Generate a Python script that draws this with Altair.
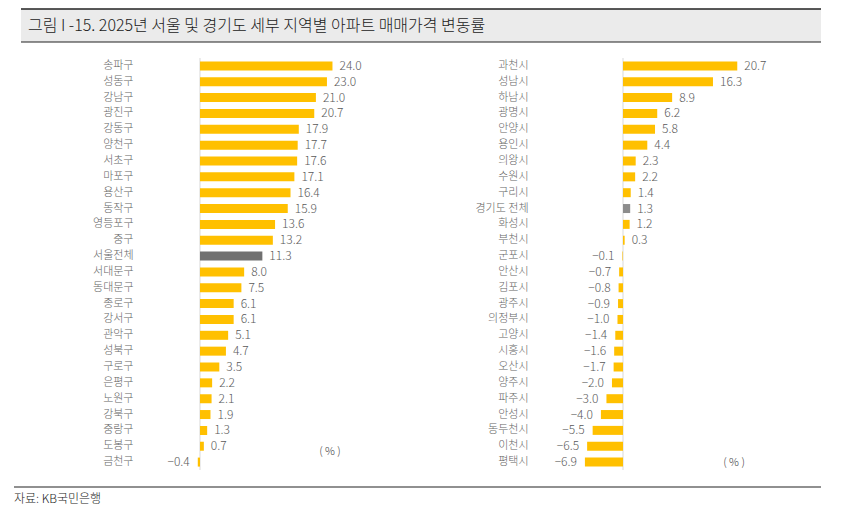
import pandas as pd
import altair as alt

FONT = 'Noto Sans CJK KR'
PX = 5.52  # pixels per percentage point, same in both panels

title_text = '그림 I -15. 2025년 서울 및 경기도 세부 지역별 아파트 매매가격 변동률'
source_text = '자료: KB국민은행'

seoul_names = ['송파구', '성동구', '강남구', '광진구', '강동구', '양천구', '서초구', '마포구',
               '용산구', '동작구', '영등포구', '중구', '서울전체', '서대문구', '동대문구', '종로구',
               '강서구', '관악구', '성북구', '구로구', '은평구', '노원구', '강북구', '중랑구',
               '도봉구', '금천구']
seoul_values = [24.0, 23.0, 21.0, 20.7, 17.9, 17.7, 17.6, 17.1, 16.4, 15.9, 13.6, 13.2, 11.3,
                8.0, 7.5, 6.1, 6.1, 5.1, 4.7, 3.5, 2.2, 2.1, 1.9, 1.3, 0.7, -0.4]

gg_names = ['과천시', '성남시', '하남시', '광명시', '안양시', '용인시', '의왕시', '수원시',
            '구리시', '경기도 전체', '화성시', '부천시', '군포시', '안산시', '김포시', '광주시',
            '의정부시', '고양시', '시흥시', '오산시', '양주시', '파주시', '안성시', '동두천시',
            '이천시', '평택시']
gg_values = [20.7, 16.3, 8.9, 6.2, 5.8, 4.4, 2.3, 2.2, 1.4, 1.3, 1.2, 0.3, -0.1, -0.7, -0.8,
             -0.9, -1.0, -1.4, -1.6, -1.7, -2.0, -3.0, -4.0, -5.5, -6.5, -6.9]


def panel(names, values, total, total_color, x_min, x_max, pct_x, pct_y):
    df = pd.DataFrame({'name': names, 'value': values})
    xs = alt.Scale(domain=[x_min, x_max], nice=False, zero=False)
    base = alt.Chart(df).encode(
        y=alt.Y('name:N', sort=names, title=None,
                scale=alt.Scale(paddingInner=0, paddingOuter=0),
                axis=alt.Axis(domain=False, ticks=False, labelPadding=5, labelFont=FONT,
                              labelFontSize=11, labelFontWeight=300, labelColor='#666666'))
    )
    zero = alt.Chart(pd.DataFrame({'z': [0]})).mark_rule(color='#d9d9d9', strokeWidth=1).encode(
        x=alt.X('z:Q', scale=xs, axis=None)
    )
    bars = base.mark_bar(size=9).encode(
        x=alt.X('value:Q', scale=xs, axis=None),
        color=alt.condition(alt.datum.name == total, alt.value(total_color), alt.value('#FFC000'))
    )
    pos = base.mark_text(align='left', baseline='middle', dx=7, font=FONT, fontSize=12,
                         fontWeight=300, color='#595959').encode(
        x=alt.X('value:Q', scale=xs, axis=None),
        text=alt.Text('value:Q', format='.1f')
    ).transform_filter('datum.value >= 0')
    neg = base.mark_text(align='right', baseline='middle', dx=-8, font=FONT, fontSize=12,
                         fontWeight=300, color='#595959').encode(
        x=alt.X('value:Q', scale=xs, axis=None),
        text=alt.Text('value:Q', format='.1f')
    ).transform_filter('datum.value < 0')
    pct = alt.Chart(pd.DataFrame({'t': ['( % )']})).mark_text(
        font=FONT, fontSize=11, fontWeight=300, color='#404040', baseline='middle').encode(
        x=alt.value(pct_x), y=alt.value(pct_y), text='t:N'
    )
    layers = alt.layer(zero, bars, pos, neg, pct).properties(
        width=(x_max - x_min) * PX, height=412
    )
    return layers


left = panel(seoul_names, seoul_values, '서울전체', '#707070', -11.23, 30, 192, 394)
right = panel(gg_names, gg_values, '경기도 전체', '#8c8c8c', -16.3, 25, 201, 405)

# title bar and source line, drawn relative to the left panel's plot area
deco = pd.DataFrame({'t': [title_text], 's': [source_text]})
bar_bg = alt.Chart(deco).mark_rect(color='#ebebeb').encode(
    x=alt.value(-117), x2=alt.value(683), y=alt.value(-49), y2=alt.value(-16))
top_line = alt.Chart(deco).mark_rule(color='#222222', strokeWidth=1.5).encode(
    x=alt.value(-117), x2=alt.value(683), y=alt.value(-49))
bot_line = alt.Chart(deco).mark_rule(color='#222222', strokeWidth=1.2).encode(
    x=alt.value(-117), x2=alt.value(683), y=alt.value(-16))
title = alt.Chart(deco).mark_text(align='left', baseline='middle', font=FONT, fontSize=16,
                                  fontWeight=300, color='#1a1a1a').encode(
    x=alt.value(-110), y=alt.value(-32), text='t:N')
foot_line = alt.Chart(deco).mark_rule(color='#222222', strokeWidth=1.2).encode(
    x=alt.value(-124), x2=alt.value(683), y=alt.value(429))
source = alt.Chart(deco).mark_text(align='left', baseline='middle', font=FONT, fontSize=12,
                                   fontWeight=300, color='#1a1a1a').encode(
    x=alt.value(-124), y=alt.value(441), text='s:N')

left = alt.layer(bar_bg, top_line, bot_line, title, foot_line, source, left)

chart = alt.hconcat(left, right, spacing=395 - (25 + 16.3) * PX, bounds='flush').properties(
    padding={'left': 5, 'top': 0, 'right': 5, 'bottom': 0}
).configure_view(stroke=None)

chart.save('out.html', embed_options={'renderer': 'svg', 'actions': False})
